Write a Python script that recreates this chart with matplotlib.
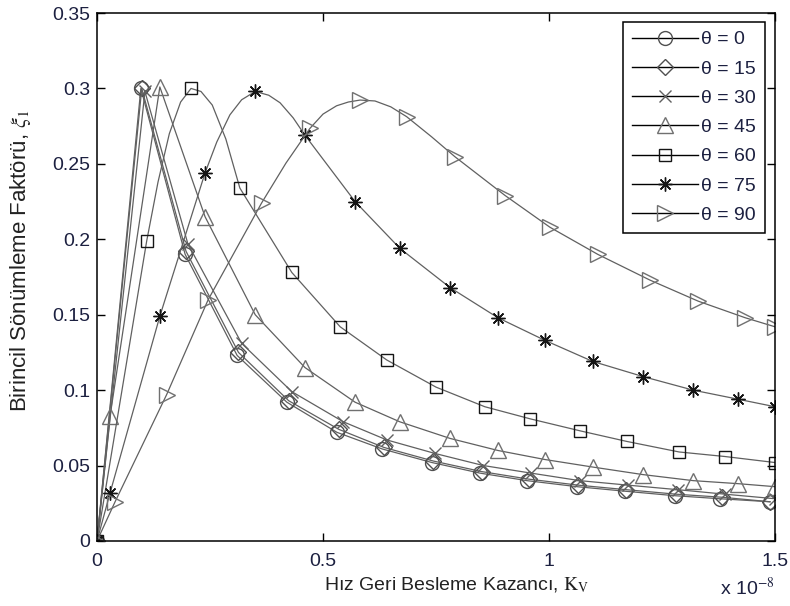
import matplotlib
matplotlib.use("Agg")
import matplotlib.pyplot as plt
from matplotlib.lines import Line2D

plt.rcParams["font.family"] = ["Liberation Sans", "DejaVu Sans"]
plt.rcParams["mathtext.fontset"] = "stix"

# points (K_v in units of 1e-8)
x_t0 = [0, 0.097, 0.195, 0.310, 0.420, 0.531, 0.631, 0.741, 0.847, 0.951, 1.062, 1.168, 1.279, 1.378, 1.489]
y_t0 = [0, 0.300, 0.190, 0.123, 0.092, 0.072, 0.061, 0.052, 0.045, 0.040, 0.036, 0.033, 0.030, 0.028, 0.026]

x_t15 = [0, 0.099, 0.197, 0.313, 0.424, 0.535, 0.635, 0.744, 0.851, 0.955, 1.065, 1.171, 1.282, 1.382, 1.489]
y_t15 = [0, 0.300, 0.192, 0.125, 0.093, 0.074, 0.062, 0.053, 0.046, 0.041, 0.037, 0.034, 0.031, 0.029, 0.026]

x_t30 = [0, 0.106, 0.201, 0.320, 0.431, 0.545, 0.641, 0.748, 0.855, 0.960, 1.068, 1.175, 1.285, 1.390, 1.500]
y_t30 = [0, 0.298, 0.197, 0.131, 0.099, 0.079, 0.067, 0.058, 0.050, 0.045, 0.040, 0.037, 0.034, 0.031, 0.028]

x_t45 = [0, 0.029, 0.139, 0.239, 0.350, 0.460, 0.571, 0.670, 0.781, 0.887, 0.991, 1.097, 1.208, 1.319, 1.418, 1.500]
y_t45 = [0, 0.083, 0.301, 0.215, 0.150, 0.115, 0.092, 0.079, 0.068, 0.060, 0.054, 0.049, 0.044, 0.040, 0.038, 0.036]

# the three right-hand curves carry extra unmarked points read along their rounded peaks
x_t60 = [0, 0.110, 0.135, 0.160, 0.185, 0.208, 0.230, 0.255, 0.285, 0.316, 0.431, 0.538, 0.641,
         0.750, 0.858, 0.958, 1.069, 1.172, 1.288, 1.389, 1.500]
y_t60 = [0, 0.199, 0.238, 0.270, 0.291, 0.300, 0.298, 0.289, 0.2665, 0.234, 0.178, 0.142, 0.120,
         0.102, 0.089, 0.081, 0.073, 0.066, 0.059, 0.056, 0.052]
marks_t60 = [0, 1, 5, 9, 10, 11, 12, 13, 14, 15, 16, 17, 18, 19, 20]

x_t75 = [0, 0.029, 0.139, 0.239, 0.265, 0.294, 0.320, 0.350, 0.380, 0.405, 0.434, 0.460, 0.571,
         0.670, 0.781, 0.887, 0.991, 1.097, 1.208, 1.319, 1.418, 1.500]
y_t75 = [0, 0.032, 0.149, 0.244, 0.2645, 0.2825, 0.2925, 0.298, 0.2955, 0.2905, 0.2805, 0.269, 0.225,
         0.194, 0.168, 0.148, 0.133, 0.119, 0.109, 0.100, 0.094, 0.089]
marks_t75 = [0, 1, 2, 3, 7, 11, 12, 13, 14, 15, 16, 17, 18, 19, 20, 21]

x_t90 = [0, 0.040, 0.154, 0.246, 0.364, 0.418, 0.471, 0.500, 0.530, 0.556, 0.582, 0.615, 0.650,
         0.685, 0.740, 0.792, 0.903, 1.002, 1.108, 1.223, 1.330, 1.434, 1.500]
y_t90 = [0, 0.026, 0.097, 0.160, 0.224, 0.2505, 0.2735, 0.283, 0.2885, 0.291, 0.2923, 0.2917, 0.2878,
         0.2813, 0.268, 0.2547, 0.229, 0.208, 0.190, 0.173, 0.159, 0.148, 0.142]
marks_t90 = [0, 1, 2, 3, 4, 6, 10, 13, 15, 16, 17, 18, 19, 20, 21, 22]

labels = ["\u03b8 = 0", "\u03b8 = 15", "\u03b8 = 30", "\u03b8 = 45", "\u03b8 = 60", "\u03b8 = 75", "\u03b8 = 90"]
series = [(x_t0, y_t0, None), (x_t15, y_t15, None), (x_t30, y_t30, None), (x_t45, y_t45, None),
          (x_t60, y_t60, marks_t60), (x_t75, y_t75, marks_t75), (x_t90, y_t90, marks_t90)]

markers = ["o", "D", "x", "^", "s", (8, 2, 0), ">"]
msizes = [10, 8, 8, 11, 8.5, 10, 11]
mcolors = ["#505050", "#505050", "#606060", "#707070", "#151515", "#151515", "#707070"]
text_color = "#1c2040"

fig = plt.figure(figsize=(7.9, 6.06), dpi=100)
ax = fig.add_axes([0.1228, 0.1073, 0.8582, 0.8712])

for (xs, ys, marks), m, ms, mc in zip(series, markers, msizes, mcolors):
    ax.plot(xs, ys, color="#606060", lw=0.9, marker=m, ms=ms, markevery=marks,
            mfc="none", mec=mc, mew=1.0)

ax.set_xlim(0, 1.5)
ax.set_ylim(0, 0.35)
ax.set_xticks([0, 0.5, 1, 1.5])
ax.set_xticklabels(["0", "0.5", "1", "1.5"])
ax.set_yticks([0, 0.05, 0.1, 0.15, 0.2, 0.25, 0.3, 0.35])
ax.set_yticklabels(["0", "0.05", "0.1", "0.15", "0.2", "0.25", "0.3", "0.35"])
ax.tick_params(direction="in", top=True, right=True, length=6,
               labelsize=14, labelcolor=text_color, width=1, pad=5)
ax.tick_params(axis="x", pad=9)
for s in ax.spines.values():
    s.set_linewidth(1.1)

ax.set_xlabel("H\u0131z Geri Besleme Kazanc\u0131, $\\mathrm{K_V}$", fontsize=14, color="#222222")
ax.xaxis.set_label_coords(0.531, -0.065, transform=ax.transAxes)
ax.xaxis.label.set_va("top")
ax.set_ylabel("Birincil S\u00f6n\u00fcmleme Fakt\u00f6r\u00fc, $\\xi_1$", fontsize=16, color="#222222")
ax.yaxis.set_label_coords(-0.113, 0.53, transform=ax.transAxes)
ax.yaxis.label.set_va("center")
ax.text(1.0, -0.068, "x 10$^{-8}$", transform=ax.transAxes, ha="right", va="top",
        fontsize=14, color=text_color)

handles = [Line2D([], [], color="black", lw=1.0, marker=m, ms=ms, mfc="none", mec=mc, mew=1.0)
           for m, ms, mc in zip(markers, msizes, mcolors)]
leg = ax.legend(handles, labels, loc="upper right", bbox_to_anchor=(0.985, 0.983),
                fontsize=14, handlelength=3.4, handletextpad=0.15, borderpad=0.45,
                labelspacing=0.6, fancybox=False, framealpha=1, edgecolor="black",
                borderaxespad=0)
leg.get_frame().set_linewidth(1.1)
for t in leg.get_texts():
    t.set_color(text_color)

fig.savefig("out.png", dpi=100)
